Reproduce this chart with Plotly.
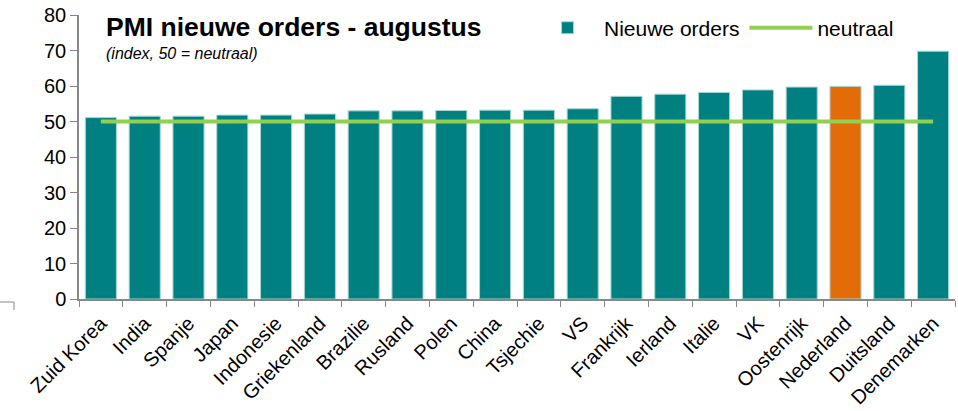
import plotly.graph_objects as go

countries = ["Zuid Korea", "India", "Spanje", "Japan", "Indonesie", "Griekenland",
             "Brazilie", "Rusland", "Polen", "China", "Tsjechie", "VS", "Frankrijk",
             "Ierland", "Italie", "VK", "Oostenrijk", "Nederland", "Duitsland", "Denemarken"]
orders = [51.1, 51.5, 51.5, 51.8, 51.8, 52.1, 53.0, 53.0, 53.1, 53.2, 53.2, 53.6,
          57.1, 57.7, 58.2, 58.9, 59.7, 59.9, 60.2, 69.8]
neutral = [50] * len(countries)
highlight = "Nederland"

TEAL = "#008080"
ORANGE = "#E36C09"
GREEN = "#92D050"
colors = [ORANGE if c == highlight else TEAL for c in countries]

fig = go.Figure()
fig.add_trace(go.Bar(
    x=countries, y=orders, name="Nieuwe orders",
    marker=dict(color=colors, line=dict(color="#a8d8d5", width=1)),
))
fig.add_trace(go.Scatter(
    x=countries, y=neutral, name="neutraal", mode="lines",
    line=dict(color=GREEN, width=4),
))

fig.update_layout(
    width=958, height=411,
    margin=dict(l=79, r=3, t=15, b=112),
    paper_bgcolor="white", plot_bgcolor="white",
    font=dict(family="Liberation Sans, Arial, sans-serif", size=20, color="black"),
    bargap=0.29,
    showlegend=True,
    legend=dict(orientation="h", x=0.516, y=0.954, xanchor="left", yanchor="middle",
                font=dict(size=21), bgcolor="rgba(0,0,0,0)", itemwidth=63,
                traceorder="normal"),
    xaxis=dict(type="category", tickangle=-45, tickson="boundaries",
               ticks="outside", ticklen=6, tickcolor="#888888",
               showline=True, linecolor="#888888", linewidth=1.5,
               showgrid=False, tickfont=dict(size=20), automargin=False,
               ticklabelstandoff=3),
    yaxis=dict(range=[0, 80], dtick=10, ticks="outside", ticklen=7,
               tickcolor="#888888", showline=True, linecolor="#888888",
               linewidth=1.5, showgrid=False, zeroline=False,
               tickfont=dict(size=20), automargin=False),
    annotations=[
        dict(text="<b>PMI nieuwe orders - augustus</b>", xref="paper", yref="paper",
             x=0.0285, y=0.958, xanchor="left", yanchor="middle", showarrow=False,
             font=dict(size=26.5)),
        dict(text="<i>(index, 50 = neutraal)</i>", xref="paper", yref="paper",
             x=0.0285, y=0.866, xanchor="left", yanchor="middle", showarrow=False,
             font=dict(size=16)),
    ],
    shapes=[
        dict(type="path", xref="paper", yref="paper",
             path="M -0.0902,-0.0106 L -0.0742,-0.0106 L -0.0742,-0.0387",
             line=dict(color="#888888", width=1)),
    ],
)

fig.write_html("out.html", config={"displayModeBar": False},
               post_script="document.body.style.margin='0';document.body.style.overflow='hidden';")
